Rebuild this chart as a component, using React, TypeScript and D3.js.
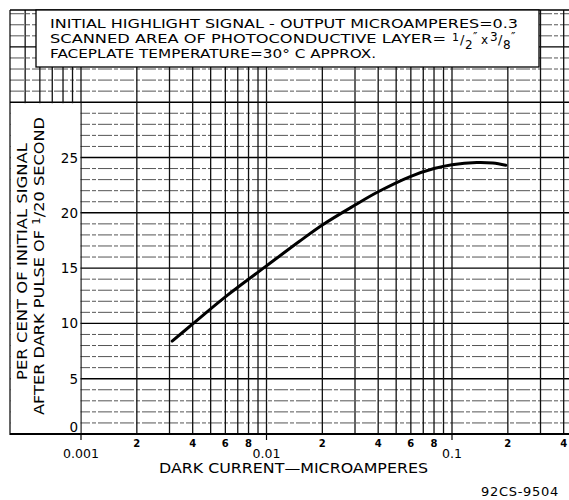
import React from 'react';
import * as d3 from 'd3';

// ---- data ----
const darkCurrent = [0.0031, 0.004, 0.006, 0.01, 0.015, 0.02, 0.03, 0.04, 0.06, 0.08, 0.1, 0.136, 0.166, 0.195];
const perCentSignal = [8.4, 9.95, 12.4, 15.2, 17.4, 18.9, 20.7, 21.9, 23.3, 24.0, 24.35, 24.55, 24.5, 24.3];

const yTickValues = [0, 5, 10, 15, 20, 25];
const yTickLabels = ['0', '5', '10', '15', '20', '25'];
const xMajorTicks = [0.001, 0.01, 0.1];
const xMajorLabels = ['0.001', '0.01', '0.1'];
const xMinorTicks = [0.002, 0.004, 0.006, 0.008, 0.02, 0.04, 0.06, 0.08, 0.2, 0.4];
const xMinorLabels = ['2', '4', '6', '8', '2', '4', '6', '8', '2', '4'];
const gridDecades = [0.0001, 0.001, 0.01, 0.1, 1];
const gridMultipliers = [1, 2, 3, 4, 5, 6, 7, 8, 9];

const titleLine1 = 'INITIAL HIGHLIGHT SIGNAL - OUTPUT MICROAMPERES=0.3';
const titleLine2 = 'SCANNED AREA OF PHOTOCONDUCTIVE LAYER=';
const titleLine3 = 'FACEPLATE TEMPERATURE=30° C APPROX.';
const yTitle1 = 'PER CENT OF INITIAL SIGNAL';
const yTitle2a = 'AFTER DARK PULSE OF ';
const yTitle2b = ' SECOND';
const xTitle = 'DARK CURRENT—MICROAMPERES';
const figureCode = '92CS-9504';

const FONT = '"DejaVu Sans", "Liberation Sans", sans-serif';

export default function App() {
  const W = 569;
  const H = 500;
  const frameL = 10;
  const frameT = 10;
  const x = d3.scaleLog().domain([0.001, 0.1]).range([81, 452]);
  const y = d3.scaleLinear().domain([0, 25]).range([434, 157.5]);
  const yTop = y.invert(frameT);

  const vGrid: number[] = [];
  gridDecades.forEach((d) => gridMultipliers.forEach((m) => {
    const v = d * m;
    const px = x(v);
    if (px > frameL + 1 && px < W + 2) vGrid.push(v);
  }));
  const hGrid = d3.range(1, Math.floor(yTop) + 1);

  const line = d3.line<number>()
    .x((_, i) => x(darkCurrent[i]))
    .y((d) => y(d))
    .curve(d3.curveCatmullRom.alpha(0.5));

  return (
    <svg width={W} height={H} style={{ position: 'absolute', left: 0, top: 0, background: '#fff' }}
      fontFamily={FONT}>
      <rect x={0} y={0} width={W} height={H} fill="#fff" />
      {/* grid */}
      {hGrid.map((v) => (
        <line key={'h' + v} x1={frameL} x2={W} y1={y(v)} y2={y(v)}
          stroke={v % 5 === 0 ? '#000' : '#555'} strokeWidth={v % 5 === 0 ? 1.4 : 1}
          strokeDasharray={v % 5 === 0 ? undefined : '14 2 4 2'} />
      ))}
      {vGrid.map((v, i) => (
        <line key={'v' + i} x1={x(v)} x2={x(v)} y1={frameT} y2={y(0)}
          stroke="#111" strokeWidth={1.3} />
      ))}
      {/* white label area at left */}
      <rect x={frameL + 0.5} y={y(30) + 1} width={x(0.001) - frameL - 1.2} height={y(0) - y(30) - 1} fill="#fff" />
      {/* frame */}
      <line x1={frameL} x2={frameL} y1={frameT} y2={y(0) + 1} stroke="#000" strokeWidth={1.2} />
      <line x1={frameL} x2={W} y1={frameT} y2={frameT} stroke="#000" strokeWidth={1.4} />
      <line x1={frameL} x2={W} y1={y(0)} y2={y(0)} stroke="#000" strokeWidth={1.8} />
      {xMajorTicks.map((v) => (
        <line key={'t' + v} x1={x(v)} x2={x(v)} y1={y(0)} y2={y(0) + 6} stroke="#000" strokeWidth={1.2} />
      ))}
      {/* title box */}
      <rect x={36} y={frameT} width={503} height={57} fill="#fff" stroke="#000" strokeWidth={1.3} />
      <g fontSize={13} fill="#000">
        <text x={50} y={28} textLength={468} lengthAdjust="spacingAndGlyphs">{titleLine1}</text>
        <text x={50} y={42.5} textLength={396} lengthAdjust="spacingAndGlyphs">{titleLine2}</text>
        <text fontSize={12}>
          <tspan x={452} y={41} fontSize={11}>1</tspan>
          <tspan x={460} y={44} fontSize={13}>/</tspan>
          <tspan x={465} y={49} fontSize={12}>2</tspan>
          <tspan x={473} y={41} fontSize={12}>″</tspan>
          <tspan x={481} y={44} fontSize={12}>x</tspan>
          <tspan x={490} y={41} fontSize={12}>3</tspan>
          <tspan x={498} y={44} fontSize={13}>/</tspan>
          <tspan x={503} y={49} fontSize={12}>8</tspan>
          <tspan x={511} y={41} fontSize={12}>″</tspan>
        </text>
        <text x={50} y={57.5} textLength={326} lengthAdjust="spacingAndGlyphs">{titleLine3}</text>
      </g>
      {/* y axis labels */}
      <g fontSize={13.5} textAnchor="end">
        {yTickValues.map((v, i) => (
          <text key={'yl' + v} x={78} y={y(v) + (v === 0 ? -2 : 5)}>{yTickLabels[i]}</text>
        ))}
      </g>
      <g fontSize={14} textAnchor="middle">
        <text transform="translate(27,261.5) rotate(-90)" textLength={237} lengthAdjust="spacingAndGlyphs">{yTitle1}</text>
        <text transform="translate(44,266) rotate(-90)" textLength={298} lengthAdjust="spacingAndGlyphs">
          {yTitle2a}
          <tspan fontSize={10} dy={-4}>1</tspan>
          <tspan fontSize={14} dy={4}>/20</tspan>
          {yTitle2b}
        </text>
      </g>
      {/* x axis labels */}
      <g fontSize={10} fontWeight="bold" textAnchor="middle">
        {xMinorTicks.map((v, i) => (
          <text key={'xm' + i} x={x(v)} y={447}>{xMinorLabels[i]}</text>
        ))}
      </g>
      <g fontSize={12.5} textAnchor="middle">
        {xMajorTicks.map((v, i) => (
          <text key={'xM' + v} x={x(v)} y={458}>{xMajorLabels[i]}</text>
        ))}
      </g>
      <text x={293.5} y={473} fontSize={14} textAnchor="middle" textLength={269} lengthAdjust="spacingAndGlyphs">{xTitle}</text>
      <text x={481} y={496} fontSize={13} letterSpacing={0.7}>{figureCode}</text>
      {/* curve */}
      <path d={line(perCentSignal) || ''} fill="none" stroke="#000" strokeWidth={3} strokeLinecap="round" />
    </svg>
  );
}
